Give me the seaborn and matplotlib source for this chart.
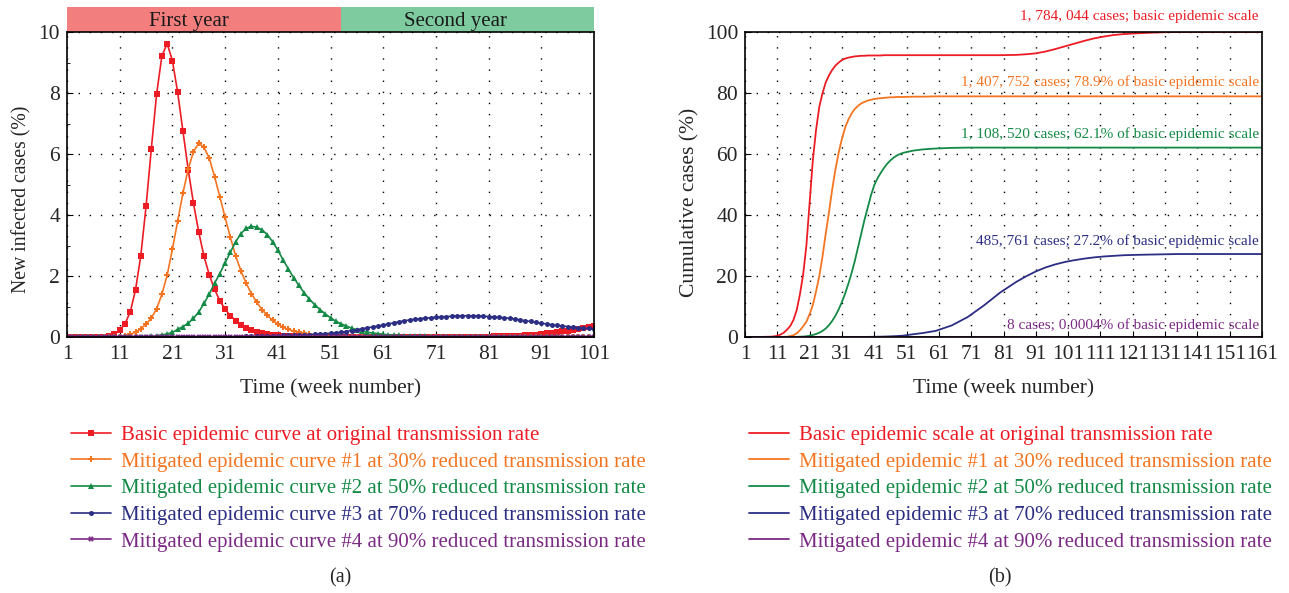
import matplotlib
matplotlib.use("Agg")
import matplotlib.pyplot as plt
import matplotlib.transforms as mtransforms
from matplotlib.patches import Rectangle
from matplotlib.ticker import MultipleLocator
import seaborn as sns

# ---------------- data: panel (a) weekly new infected cases (%) ----------------
weeks_new = list(range(1, 102))

red_new = [0, 0, 0, 0, 0, 0, 0,
           0.01, 0.03, 0.09, 0.22, 0.43, 0.82, 1.54, 2.66, 4.28, 6.17, 7.96, 9.21, 9.62,
           9.06, 8.02, 6.75, 5.49, 4.38, 3.44, 2.64, 2.04, 1.56, 1.19, 0.91, 0.70, 0.54,
           0.40, 0.30, 0.22, 0.16, 0.12, 0.09, 0.07, 0.05, 0.04, 0.03, 0.02, 0.02, 0.01,
           0.01, 0.01, 0.01, 0.01,
           0, 0, 0, 0, 0, 0, 0, 0, 0, 0, 0, 0, 0, 0, 0, 0, 0, 0, 0, 0, 0, 0, 0, 0, 0,
           0.01, 0.01, 0.01, 0.01, 0.01, 0.01, 0.02, 0.02, 0.02, 0.03, 0.03, 0.04, 0.05,
           0.06, 0.08, 0.10, 0.12, 0.14, 0.16, 0.19, 0.21, 0.23, 0.26, 0.29, 0.32, 0.35]

orange_new = [0, 0, 0, 0, 0, 0, 0, 0, 0, 0, 0,
              0.04, 0.09, 0.16, 0.27, 0.42, 0.62, 0.92, 1.40, 2.02, 2.88, 3.80, 4.72, 5.50,
              6.08, 6.35, 6.22, 5.86, 5.26, 4.60, 3.92, 3.27, 2.66, 2.17, 1.76, 1.42, 1.14,
              0.90, 0.71, 0.55, 0.42, 0.32, 0.25, 0.19, 0.15, 0.12, 0.09, 0.07, 0.06, 0.05,
              0.04, 0.03, 0.02, 0.02, 0.01, 0.01, 0.01, 0.01,
              0, 0, 0, 0, 0, 0, 0, 0, 0, 0, 0, 0, 0, 0, 0, 0, 0, 0, 0, 0, 0, 0,
              0, 0, 0, 0, 0, 0, 0, 0, 0, 0, 0, 0, 0, 0, 0, 0, 0, 0, 0, 0, 0]

green_new = [0, 0, 0, 0, 0, 0, 0, 0, 0, 0, 0, 0, 0, 0, 0,
             0.01, 0.02, 0.04, 0.07, 0.10, 0.15, 0.25, 0.34, 0.45, 0.61, 0.82, 1.10, 1.41,
             1.76, 2.08, 2.43, 2.78, 3.12, 3.39, 3.56, 3.63, 3.60, 3.51, 3.36, 3.13, 2.85,
             2.53, 2.23, 1.95, 1.69, 1.45, 1.24, 1.06, 0.90, 0.76, 0.63, 0.52, 0.43, 0.36,
             0.29, 0.24, 0.20, 0.16, 0.13, 0.11, 0.09, 0.07, 0.06, 0.05, 0.04, 0.03, 0.03,
             0.02, 0.02, 0.01, 0.01, 0.01, 0.01,
             0, 0, 0, 0, 0, 0, 0, 0, 0, 0, 0, 0, 0, 0, 0, 0, 0, 0, 0, 0, 0, 0, 0, 0, 0, 0,
             0, 0]

navy_new = [0, 0, 0, 0, 0, 0, 0, 0, 0, 0, 0, 0, 0, 0, 0, 0, 0, 0, 0, 0, 0, 0, 0, 0, 0,
            0, 0, 0, 0, 0, 0, 0,
            0.01, 0.01, 0.02, 0.02, 0.02, 0.03, 0.03, 0.04, 0.04, 0.05, 0.05, 0.06, 0.07,
            0.07, 0.08, 0.09, 0.10, 0.11, 0.12, 0.14, 0.16, 0.18, 0.21, 0.24, 0.27, 0.30,
            0.33, 0.36, 0.39, 0.43, 0.46, 0.50, 0.53, 0.56, 0.58, 0.60, 0.62, 0.63, 0.65,
            0.66, 0.67, 0.68, 0.69, 0.69, 0.70, 0.69, 0.69, 0.68, 0.67, 0.66, 0.64, 0.63,
            0.61, 0.59, 0.56, 0.53, 0.51, 0.48, 0.45, 0.43, 0.40, 0.38, 0.36, 0.34, 0.32,
            0.30, 0.29, 0.28, 0.27]

purple_new = [0, 0, 0, 0, 0, 0, 0, 0, 0, 0, 0, 0, 0, 0, 0, 0, 0, 0, 0, 0,
              0, 0, 0, 0, 0, 0, 0, 0, 0, 0, 0, 0, 0, 0, 0, 0, 0, 0, 0, 0,
              0, 0, 0, 0, 0, 0, 0, 0, 0, 0, 0, 0, 0, 0, 0, 0, 0, 0, 0, 0,
              0, 0, 0, 0, 0, 0, 0, 0, 0, 0, 0, 0, 0, 0, 0, 0, 0, 0, 0, 0,
              0, 0, 0, 0, 0, 0, 0, 0, 0, 0, 0, 0, 0, 0, 0, 0, 0, 0, 0, 0, 0]

labels_a = ["Basic epidemic curve at original transmission rate",
            "Mitigated epidemic curve #1 at 30% reduced transmission rate",
            "Mitigated epidemic curve #2 at 50% reduced transmission rate",
            "Mitigated epidemic curve #3 at 70% reduced transmission rate",
            "Mitigated epidemic curve #4 at 90% reduced transmission rate"]

# ---------------- data: panel (b) cumulative cases (%) ----------------
weeks_cum = [1, 5, 9,
             10, 11, 12, 13, 14, 15, 16, 17, 18, 19, 20, 21, 22, 23, 24, 25, 26, 27, 28, 29,
             30, 31, 32, 33, 34, 35, 36, 37, 38, 39, 40, 41, 42, 43, 44, 45, 46, 47, 48, 49, 50,
             53, 56, 60, 65, 70, 75, 80, 85, 88, 91, 94, 97, 100, 103, 106, 109, 112, 115,
             118, 121, 125, 130, 135, 140, 150, 161]

red_cum = [0, 0, 0.1,
           0.2, 0.4, 0.8, 1.4, 2.4, 3.6, 5.6, 8.8, 14.0, 20.5, 30.0, 44.0, 58.0, 68.0, 75.5,
           80.0, 83.5, 85.8, 87.6, 89.0, 90.0, 90.8, 91.3, 91.6, 91.8, 92.0, 92.1, 92.2, 92.2,
           92.3, 92.3, 92.3, 92.3, 92.3, 92.4, 92.4, 92.4, 92.4, 92.4, 92.4, 92.4,
           92.4, 92.4, 92.4, 92.4, 92.4, 92.4, 92.4, 92.5, 92.7, 93.0, 93.6, 94.4, 95.3, 96.2,
           97.1, 97.9, 98.5, 99.0, 99.3, 99.5, 99.7, 99.9, 100, 100, 100, 100]

orange_cum = [0, 0, 0,
              0, 0, 0, 0.05, 0.1, 0.3, 0.6, 1.2, 2.2, 3.5, 5.0, 7.5, 10.5, 15.0, 20.0, 26.5,
              34.0, 41.0, 48.5, 55.0, 60.5, 65.0, 68.7, 71.3, 73.3, 74.8, 75.8, 76.6, 77.1,
              77.5, 77.8, 78.0, 78.2, 78.3, 78.4, 78.5, 78.6, 78.6, 78.7, 78.7, 78.7,
              78.8, 78.8, 78.9, 78.9, 78.9, 78.9, 78.9, 78.9, 78.9, 78.9, 78.9, 78.9, 78.9,
              78.9, 78.9, 78.9, 78.9, 78.9, 78.9, 78.9, 78.9, 78.9, 78.9, 78.9, 78.9, 78.9]

green_cum = [0, 0, 0,
             0, 0, 0, 0, 0, 0, 0.02, 0.05, 0.1, 0.15, 0.25, 0.4, 0.65, 1.0, 1.4, 2.0, 2.8,
             3.9, 5.3, 7.0, 9.1, 11.5, 14.3, 17.5, 21.0, 25.0, 29.5, 34.0, 38.5, 42.5, 46.5,
             49.8, 52.0, 53.8, 55.4, 56.8, 57.9, 58.8, 59.5, 60.0, 60.4,
             61.1, 61.5, 61.8, 62.0, 62.1, 62.1, 62.1, 62.1, 62.1, 62.1, 62.1, 62.1, 62.1,
             62.1, 62.1, 62.1, 62.1, 62.1, 62.1, 62.1, 62.1, 62.1, 62.1, 62.1, 62.1, 62.1]

navy_cum = [0, 0, 0,
            0, 0, 0, 0, 0, 0, 0, 0, 0, 0, 0, 0, 0, 0, 0, 0, 0, 0, 0, 0, 0, 0, 0,
            0, 0, 0.01, 0.01, 0.02, 0.03, 0.04, 0.05, 0.07, 0.09, 0.11, 0.14, 0.17, 0.21,
            0.26, 0.31, 0.37, 0.44,
            0.9, 1.3, 2.0, 3.8, 6.6, 10.4, 14.6, 18.1, 19.9, 21.5, 22.8, 23.8, 24.6, 25.2,
            25.7, 26.1, 26.4, 26.6, 26.8, 26.9, 27.0, 27.1, 27.2, 27.2, 27.2, 27.2]

purple_cum = [0, 0, 0,
              0, 0, 0, 0, 0, 0, 0, 0, 0, 0, 0, 0, 0, 0, 0, 0, 0, 0, 0, 0, 0, 0, 0,
              0, 0, 0, 0, 0, 0, 0, 0, 0, 0, 0, 0, 0, 0, 0, 0, 0, 0,
              0, 0, 0, 0, 0, 0, 0, 0, 0, 0, 0, 0, 0, 0, 0, 0, 0, 0, 0, 0, 0, 0, 0, 0, 0, 0]

labels_b = ["Basic epidemic scale at original transmission rate",
            "Mitigated epidemic #1 at 30% reduced transmission rate",
            "Mitigated epidemic #2 at 50% reduced transmission rate",
            "Mitigated epidemic #3 at 70% reduced transmission rate",
            "Mitigated epidemic #4 at 90% reduced transmission rate"]

annotations_b = ["1, 784, 044 cases; basic epidemic scale",
                 "1, 407, 752 cases; 78.9% of basic epidemic scale",
                 "1, 108, 520 cases; 62.1% of basic epidemic scale",
                 "485, 761 cases; 27.2% of basic epidemic scale",
                 "8 cases; 0.0004% of basic epidemic scale"]
annotation_y = [105, 83.6, 66.6, 31.5, 3.9]

year_labels = ["First year", "Second year"]
year_bounds = [1, 53, 101]
year_label_x = [24.2, 74.8]

# ---------------- styling ----------------
colors = ["#ED1C24", "#F47521", "#138A45", "#2B2E83", "#7B2A84"]
markers = ["s", "P", "^", "o", "X"]
msizes = [4.4, 4.2, 4.6, 3.6, 3.8]
header_colors = ["#F37E7E", "#7ECBA0"]

sns.set_style("ticks")
plt.rcParams["font.family"] = ["Liberation Serif", "DejaVu Serif"]
plt.rcParams["mathtext.fontset"] = "dejavuserif"

fig = plt.figure(figsize=(12.89, 5.93), dpi=100)
ax1 = fig.add_axes([67 / 1289, 1 - 337 / 593, (594 - 67) / 1289, 305 / 593])
ax2 = fig.add_axes([745 / 1289, 1 - 337 / 593, (1262 - 745) / 1289, 305 / 593])

series_new = [red_new, orange_new, green_new, navy_new, purple_new]
for vals, c, m, ms, lab in zip(series_new, colors, markers, msizes, labels_a):
    sns.lineplot(x=weeks_new, y=vals, ax=ax1, color=c, marker=m, markersize=ms,
                 markeredgewidth=0, linewidth=1.2, label=lab)

series_cum = [red_cum, orange_cum, green_cum, navy_cum, purple_cum]
for vals, c, lab in zip(series_cum, colors, labels_b):
    sns.lineplot(x=weeks_cum, y=vals, ax=ax2, color=c, linewidth=1.3, label=lab)

grid_kw = dict(color="black", linestyle=(0, (1, 7)), linewidth=1.0)
for ax in (ax1, ax2):
    ax.grid(True, which="major", **grid_kw)
    ax.tick_params(axis="both", which="both", direction="in", labelsize=15.5,
                   top=False, right=False, color="black", pad=5)
    ax.tick_params(axis="x", pad=6)
    ax.tick_params(which="major", length=4)
    ax.tick_params(which="minor", length=2.5)
    for s in ax.spines.values():
        s.set_color("black")
        s.set_linewidth(1.2)
    ax.set_xlabel("Time (week number)", fontsize=15.5, labelpad=11)
    ax.get_legend().remove()

ax1.set_xlim(1, 101)
ax1.set_ylim(0, 10)
ax1.set_xticks(range(1, 102, 10))
ax1.set_yticks(range(0, 11, 2))
ax1.yaxis.set_minor_locator(MultipleLocator(1))
ax1.set_ylabel("New infected cases (%)", fontsize=14.2)
ax1.yaxis.set_label_coords(-0.068, 0.45)

ax2.set_xlim(1, 161)
ax2.set_ylim(0, 100)
ax2.set_xticks(range(1, 162, 10))
ax2.set_yticks(range(0, 101, 20))
ax2.set_ylabel("Cumulative cases (%)", fontsize=15.5)
ax2.yaxis.set_label_coords(-0.089, 0.44)

# header band for years
trans = mtransforms.blended_transform_factory(ax1.transData, ax1.transAxes)
for i, (lab, hc) in enumerate(zip(year_labels, header_colors)):
    x0, x1 = year_bounds[i], year_bounds[i + 1]
    ax1.add_patch(Rectangle((x0, 1.0), x1 - x0, 0.082, transform=trans,
                            facecolor=hc, edgecolor="none", clip_on=False))
    ax1.text(year_label_x[i], 1.036, lab, transform=trans, ha="center", va="center",
             fontsize=15, color="#1a1a1a")

# annotations on (b)
for txt, yv, c in zip(annotations_b, annotation_y, colors):
    ax2.text(160, yv, txt, ha="right", va="center", fontsize=11, color=c, clip_on=False)

# legends below
leg_kw = dict(loc="upper left", frameon=False, fontsize=15.0, handlelength=1.9,
              handletextpad=0.5, labelspacing=0.34, borderpad=0,
              labelcolor="linecolor", numpoints=1)
h1, l1 = ax1.get_legend_handles_labels()
fig.legend(h1, l1, bbox_to_anchor=(61 / 1289, 1 - 415 / 593), **leg_kw)
h2, l2 = ax2.get_legend_handles_labels()
fig.legend(h2, l2, bbox_to_anchor=(739 / 1289, 1 - 415 / 593), **leg_kw)

fig.text(340 / 1289, 1 - 578 / 593, "(a)", ha="center", va="center", fontsize=14.5)
fig.text(1000 / 1289, 1 - 578 / 593, "(b)", ha="center", va="center", fontsize=14.5)

fig.savefig("out.png", dpi=100)
